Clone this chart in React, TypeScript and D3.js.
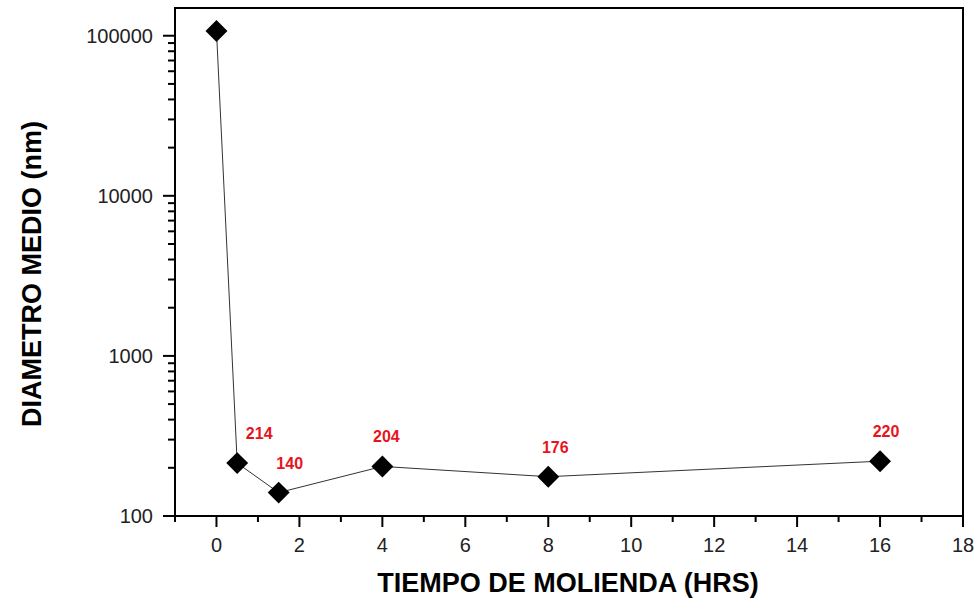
import React, { useEffect, useRef } from 'react';
import * as d3 from 'd3';

const hours = [0, 0.5, 1.5, 4, 8, 16];
const diameters = [107000, 214, 140, 204, 176, 220];
const labels = ['', '214', '140', '204', '176', '220'];
const labelShift = [0, 22, 11, 4, 7, 6];

const xMajorTicks = [0, 2, 4, 6, 8, 10, 12, 14, 16, 18];
const xMinorTicks = [-1, 1, 3, 5, 7, 9, 11, 13, 15, 17];
const yMajorTicks = [100, 1000, 10000, 100000];

const App: React.FC = () => {
  const svgRef = useRef<SVGSVGElement>(null);

  useEffect(() => {
    if (!svgRef.current) return;
    const svg = d3.select(svgRef.current);
    svg.selectAll('*').remove();

    const left = 175, right = 963, top = 8, bottom = 516;

    const x = d3.scaleLinear().domain([-1, 18]).range([left, right]);
    const y = d3.scaleLog().domain([100, 149000]).range([bottom, top]);

    const font = 'Arial, "Liberation Sans", sans-serif';

    // frame
    svg.append('rect')
      .attr('x', left).attr('y', top)
      .attr('width', right - left).attr('height', bottom - top)
      .attr('fill', 'none').attr('stroke', '#000').attr('stroke-width', 2);

    // y ticks
    const yMinor = y.ticks().filter(t => !yMajorTicks.includes(t));
    svg.append('g').selectAll('line.minor')
      .data(yMinor).enter().append('line')
      .attr('x1', left - 7).attr('x2', left)
      .attr('y1', d => y(d)).attr('y2', d => y(d))
      .attr('stroke', '#000').attr('stroke-width', 2);
    svg.append('g').selectAll('line.major')
      .data(yMajorTicks).enter().append('line')
      .attr('x1', left - 12).attr('x2', left)
      .attr('y1', d => y(d)).attr('y2', d => y(d))
      .attr('stroke', '#000').attr('stroke-width', 2);
    svg.append('g').selectAll('text')
      .data(yMajorTicks).enter().append('text')
      .attr('x', left - 22).attr('y', d => y(d) + 7)
      .attr('text-anchor', 'end')
      .attr('font-family', font).attr('font-size', 20).attr('fill', '#222')
      .text(d => String(d));

    // x ticks
    svg.append('g').selectAll('line')
      .data(xMinorTicks).enter().append('line')
      .attr('x1', d => x(d)).attr('x2', d => x(d))
      .attr('y1', bottom).attr('y2', bottom + 6)
      .attr('stroke', '#000').attr('stroke-width', 2);
    svg.append('g').selectAll('line')
      .data(xMajorTicks).enter().append('line')
      .attr('x1', d => x(d)).attr('x2', d => x(d))
      .attr('y1', bottom).attr('y2', bottom + 11)
      .attr('stroke', '#000').attr('stroke-width', 2);
    svg.append('g').selectAll('text')
      .data(xMajorTicks).enter().append('text')
      .attr('x', d => x(d)).attr('y', bottom + 36)
      .attr('text-anchor', 'middle')
      .attr('font-family', font).attr('font-size', 20).attr('fill', '#222')
      .text(d => String(d));

    // line
    const pts = hours.map((h, i) => [h, diameters[i]] as [number, number]);
    const line = d3.line<[number, number]>().x(d => x(d[0])).y(d => y(d[1]));
    svg.append('path').datum(pts)
      .attr('d', line)
      .attr('fill', 'none').attr('stroke', '#333').attr('stroke-width', 1);

    // markers
    svg.append('g').selectAll('path')
      .data(pts).enter().append('path')
      .attr('d', d3.symbol().type(d3.symbolSquare).size(240)())
      .attr('transform', d => `translate(${x(d[0])},${y(d[1])}) rotate(45)`)
      .attr('fill', '#000');

    // value labels
    svg.append('g').selectAll('text')
      .data(pts).enter().append('text')
      .attr('x', (d, i) => x(d[0]) + labelShift[i])
      .attr('y', d => y(d[1]) - 24)
      .attr('text-anchor', 'middle')
      .attr('font-family', font).attr('font-size', 16).attr('font-weight', 'bold')
      .attr('fill', '#e8141c')
      .text((d, i) => labels[i]);

    // axis titles
    svg.append('text')
      .attr('x', 568).attr('y', 592)
      .attr('text-anchor', 'middle')
      .attr('font-family', font).attr('font-size', 27).attr('font-weight', 'bold')
      .text('TIEMPO DE MOLIENDA (HRS)');
    svg.append('text')
      .attr('transform', `translate(41,274) rotate(-90)`)
      .attr('text-anchor', 'middle')
      .attr('font-family', font).attr('font-size', 27).attr('font-weight', 'bold')
      .text('DIAMETRO MEDIO (nm)');
  }, []);

  return (
    <svg ref={svgRef} width={977} height={600}
      style={{ position: 'absolute', left: 0, top: 0, background: '#fff' }} />
  );
};

export default App;
